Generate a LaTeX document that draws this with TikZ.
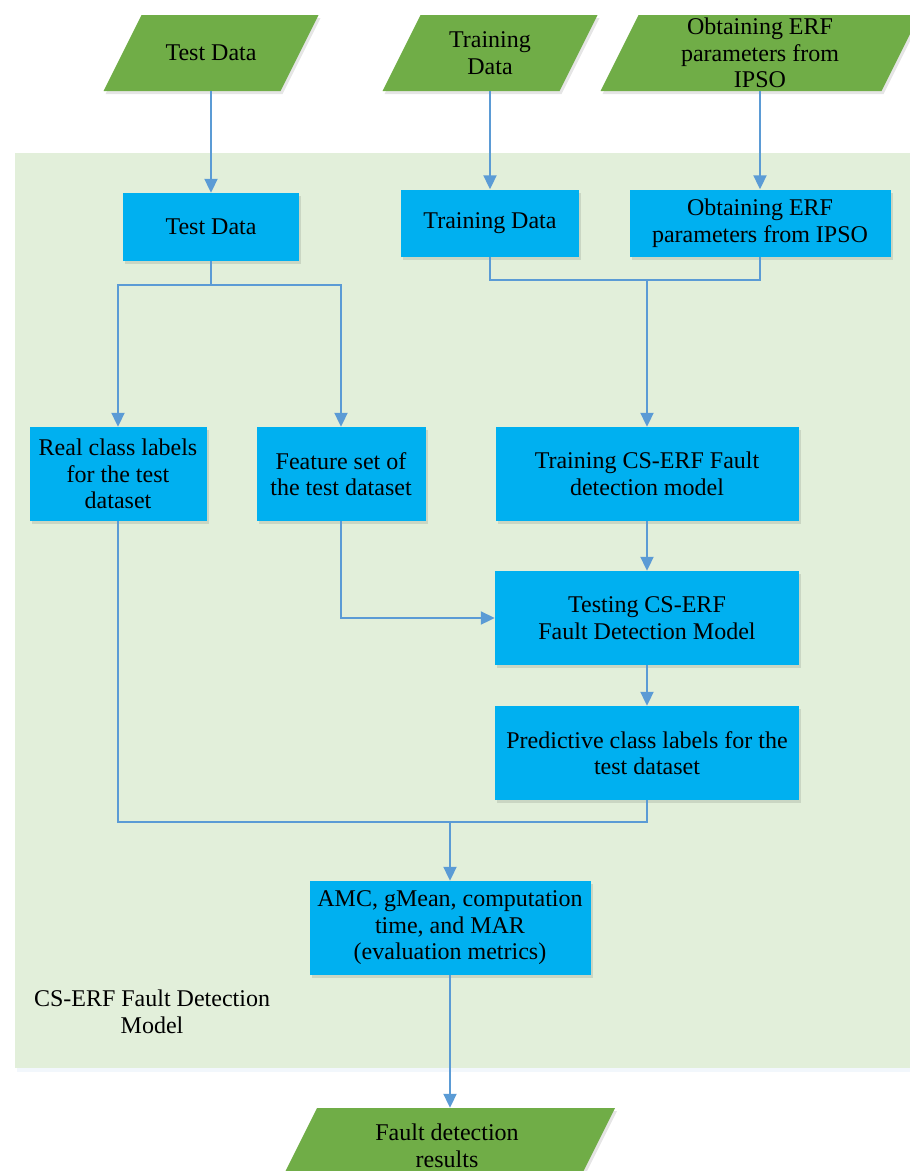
\documentclass[tikz,border=0pt]{standalone}
\usepackage{fontspec}
\setmainfont{Liberation Serif}
\usepackage{xcolor}
\usepackage{tikz}
\usetikzlibrary{shapes, arrows.meta, calc, positioning, shadows}

\definecolor{boxblue}{HTML}{00B0F0}
\definecolor{iogreen}{HTML}{70AD47}
\definecolor{bggreen}{HTML}{E2EFDA}
\definecolor{linkblue}{HTML}{5B9BD5}

\tikzset{
    softshadow/.style={drop shadow={shadow xshift=2pt, shadow yshift=-3pt, fill=black, opacity=0.10}},
    procbox/.style={fill=boxblue, align=center, inner sep=0pt, softshadow},
    iotext/.style={align=center, inner sep=0pt, minimum height=76pt},
    iofill/.style={fill=iogreen, softshadow},
    link/.style={draw=linkblue, line width=2pt},
    arrowlink/.style={link, -{Triangle[length=14pt, width=13pt]}},
}

% Parallelogram: name, centre, body width, text
\newcommand{\ionode}[4]{%
    \fill[iofill] ($(#2)+(-#3/2-19,38)$) -- ($(#2)+(#3/2-19,38)$)
        -- ($(#2)+(#3/2+19,-38)$) -- ($(#2)+(-#3/2+19,-38)$) -- cycle;
    \node[iotext, minimum width=#3pt] (#1) at (#2) {#4};
}

\begin{document}
\begin{tikzpicture}[x=1pt, y=-1pt, font=\fontsize{24}{26.5}\selectfont]
    % Page frame
    \useasboundingbox (0,0) rectangle (910,1171);
    \clip (0,0) rectangle (910,1171);

    % Background panel
    \fill[linkblue, opacity=0.08] (17,156) rectangle (915,1072);
    \fill[bggreen] (15,153) rectangle (915,1068);
    \node[align=center] (modellabel) at (152,1012) {CS-ERF Fault Detection\\Model};

    % Inputs and output
    \ionode{intest}{211,53}{177}{Test Data}
    \ionode{intrain}{490,53}{177}{Training\\Data}
    \ionode{inerf}{760,53}{281}{Obtaining ERF\\parameters from\\IPSO}
    \ionode{result}{447,1146}{298}{Fault detection\\results}

    % Process boxes
    \node[procbox, minimum width=176pt, minimum height=68pt] (testbox) at (211,227) {Test Data};
    \node[procbox, minimum width=178pt, minimum height=67pt] (trainbox) at (490,223) {Training Data};
    \node[procbox, minimum width=261pt, minimum height=67pt] (erfbox) at (760,223) {Obtaining ERF\\parameters from IPSO};
    \node[procbox, minimum width=177pt, minimum height=94pt] (reallab) at (118,474) {Real class labels\\for the test\\dataset};
    \node[procbox, minimum width=169pt, minimum height=94pt] (featset) at (341,474) {Feature set of\\the test dataset};
    \node[procbox, minimum width=303pt, minimum height=94pt] (trainmod) at (647,474) {Training CS-ERF Fault\\detection model};
    \node[procbox, minimum width=304pt, minimum height=94pt] (testmod) at (647,618) {Testing CS-ERF\\Fault Detection Model};
    \node[procbox, minimum width=304pt, minimum height=94pt] (predlab) at (647,753) {Predictive class labels for the\\test dataset};
    \node[procbox, minimum width=281pt, minimum height=94pt] (metrics) at (450,928) {AMC, gMean, computation\\time, and MAR\\(evaluation metrics)};

    % Junction points
    \coordinate (splitT) at (211,285);
    \coordinate (mergeA) at (647,280);
    \coordinate (mergeB) at (450,822);

    % Connectors
    \draw[arrowlink] (intest) -- (testbox);
    \draw[arrowlink] (intrain) -- (trainbox);
    \draw[arrowlink] (inerf) -- (erfbox);

    \draw[link] (testbox) -- (splitT);
    \draw[arrowlink] (splitT) -| (reallab);
    \draw[arrowlink] (splitT) -| (featset);

    \draw[link] (trainbox) |- (mergeA);
    \draw[link] (erfbox) |- (mergeA);
    \draw[arrowlink] (mergeA) -- (trainmod);

    \draw[arrowlink] (trainmod) -- (testmod);
    \draw[arrowlink] (featset) |- (testmod);
    \draw[arrowlink] (testmod) -- (predlab);

    \draw[link] (reallab) |- (mergeB);
    \draw[link] (predlab) |- (mergeB);
    \draw[arrowlink] (mergeB) -- (metrics);
    \draw[arrowlink] (metrics.south) -- (metrics.south |- result.north);

\end{tikzpicture}
\end{document}
